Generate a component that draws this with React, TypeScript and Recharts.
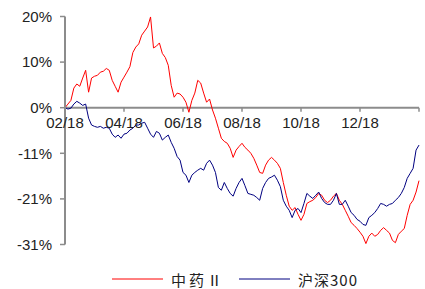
import React from 'react';
import { LineChart, Line, XAxis, YAxis, ReferenceLine, Legend } from 'recharts';

// trading-day index 0..120, one tick every 20 steps (two months)
const xTicks = [0, 20, 40, 60, 80, 100, 120];
const xLabels = ['02/18', '04/18', '06/18', '08/18', '10/18', '12/18', ''];

const yTicks = [20, 10, 0, -10, -20, -30];
const yLabels = ['20%', '10%', '0%', '-11%', '-21%', '-31%'];

const seriesNames = ['中药Ⅱ', '沪深300'];

const zhongyao = [
  0, 0.8, 1.6, 4.3, 5.2, 4.7, 6.5, 8.2, 3.4, 6.5,
  6.9, 7.1, 7.8, 8.0, 8.6, 8.2, 6.0, 4.7, 3.4, 5.6,
  6.7, 7.8, 9.0, 12.1, 13.3, 14.0, 15.9, 16.8, 17.7, 19.9,
  13.1, 13.5, 14.2, 11.9, 11.0, 9.3, 4.9, 2.3, 3.2, 3.0,
  2.3, 1.2, -1.0, 1.6, 3.2, 6.0, 5.4, 3.2, 1.2, 1.9,
  -0.5, -2.3, -4.5, -6.7, -7.4, -7.8, -8.9, -10.9, -9.3, -8.5,
  -7.8, -8.7, -9.3, -10.0, -11.1, -12.6, -14.2, -14.4, -12.6, -11.5,
  -10.9, -11.5, -12.2, -13.3, -16.4, -19.2, -21.6, -22.5, -21.9, -23.4,
  -24.7, -23.4, -21.0, -20.6, -20.3, -19.7, -18.8, -19.2, -20.3, -20.8,
  -20.3, -19.4, -18.8, -20.3, -21.2, -22.5, -23.8, -25.2, -25.8, -26.5,
  -27.3, -28.2, -29.8, -28.2, -27.5, -28.2, -27.8, -26.9, -26.3, -26.9,
  -27.5, -29.1, -29.6, -27.8, -27.1, -26.5, -23.6, -21.2, -20.3, -18.5,
  -16.0,
];

const hs300 = [
  0, -0.3, -0.1, 0.8, 1.4, 1.0, 0.5, 0.8, -2.3, -3.8,
  -4.1, -4.3, -4.1, -4.5, -4.3, -4.5, -5.8, -6.5, -6.0, -6.7,
  -5.8, -5.6, -4.9, -4.5, -3.8, -3.8, -3.4, -3.2, -4.5, -5.8,
  -6.5, -5.2, -5.6, -7.1, -6.5, -6.0, -7.6, -8.9, -10.7, -11.5,
  -14.2, -14.8, -16.4, -14.8, -14.2, -13.7, -13.3, -13.7, -12.2, -11.5,
  -12.6, -14.2, -17.5, -18.1, -16.4, -17.7, -18.8, -19.4, -17.7, -16.4,
  -15.5, -17.1, -18.8, -19.0, -19.2, -19.7, -20.3, -17.7, -16.4, -15.5,
  -15.2, -14.8, -15.9, -17.3, -20.3, -21.6, -22.5, -24.1, -22.5, -22.1,
  -23.0, -21.0, -18.8, -19.4, -19.9, -19.2, -18.5, -19.9, -20.8, -21.2,
  -21.2, -20.3, -18.8, -21.2, -21.2, -20.3, -21.6, -23.0, -23.6, -24.5,
  -24.9, -25.6, -25.8, -24.1, -23.6, -23.0, -22.1, -21.0, -21.2, -21.6,
  -21.2, -21.0, -20.3, -19.7, -18.8, -17.5, -15.5, -14.4, -13.3, -9.3,
  -8.2,
];

const data = zhongyao.map((v, i) => ({ i, a: v, b: hs300[i] }));

const axisColor = '#8c8c8c';
const textColor = '#222';

function renderLegend(props: any) {
  const items = props.payload || [];
  return (
    <div style={{ height: 20, display: 'flex', alignItems: 'center', fontFamily: '"Noto Sans CJK SC"', fontSize: 15, color: textColor }}>
      {items.map((it: any, k: number) => (
        <div key={k} style={{ display: 'flex', alignItems: 'center', marginRight: k === 0 ? 14 : 0 }}>
          <svg width={51} height={4} style={{ marginRight: 8 }}>
            <line x1={0} y1={2} x2={51} y2={2} stroke={it.color} strokeWidth={1} />
          </svg>
          <span style={{ letterSpacing: k === 0 ? 3 : 1 }}>{it.value}</span>
        </div>
      ))}
    </div>
  );
}

export default function App() {
  return (
    <div style={{ position: 'absolute', left: 0, top: 0 }}>
      <LineChart width={425} height={289} data={data} margin={{ top: 16.5, right: 6, bottom: 24.5, left: 0 }}>
        <XAxis type="number" dataKey="i" domain={[0, 120]} ticks={xTicks} hide />
        <YAxis
          domain={[-30, 20]}
          ticks={yTicks}
          interval={0}
          width={65}
          tickFormatter={(v: number) => yLabels[yTicks.indexOf(v)]}
          axisLine={{ stroke: axisColor, strokeWidth: 2 }}
          tickLine={{ stroke: axisColor, strokeWidth: 1.5 }}
          tickSize={5}
          tickMargin={8}
          tick={{ fill: textColor, fontSize: 15, fontFamily: '"Liberation Sans", Arial' }}
        />
        <ReferenceLine y={0} stroke={axisColor} strokeWidth={2} />
        {xTicks.map((t, k) => (
          <ReferenceLine
            key={t}
            segment={[{ x: t, y: 0 }, { x: t, y: -0.9 }]}
            stroke={axisColor}
            strokeWidth={1.5}
            label={xLabels[k] ? { value: xLabels[k], position: 'bottom', offset: 6, fill: textColor, fontSize: 15, fontFamily: '"Liberation Sans", Arial' } : undefined}
          />
        ))}
        <Line type="linear" dataKey="a" name={seriesNames[0]} stroke="#ff0000" strokeWidth={1} dot={false} isAnimationActive={false} />
        <Line type="linear" dataKey="b" name={seriesNames[1]} stroke="#000080" strokeWidth={1} dot={false} isAnimationActive={false} />
        <Legend content={renderLegend} verticalAlign="bottom" wrapperStyle={{ left: 112, top: 269, width: 313 }} />
      </LineChart>
    </div>
  );
}
